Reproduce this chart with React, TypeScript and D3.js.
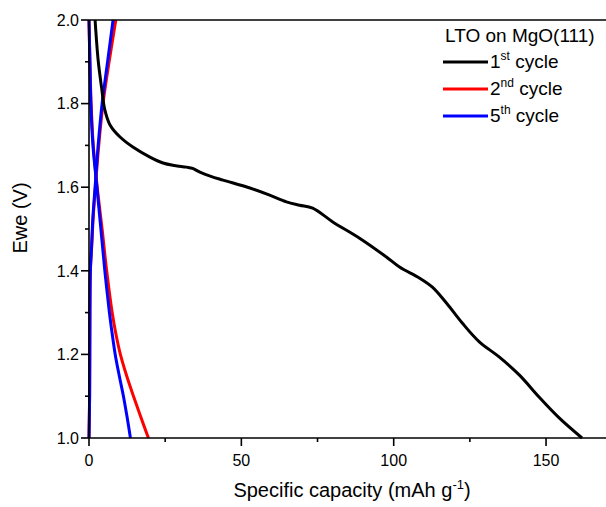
import React from "react";
import * as d3 from "d3";

const xTicksMajor = [0, 50, 100, 150];
const xTicksMinor = [25, 75, 125];
const yTicksMajor = [1.0, 1.2, 1.4, 1.6, 1.8, 2.0];
const yTicksMinor = [1.1, 1.3, 1.5, 1.7, 1.9];

const cycle1Cap = [2.0, 3.0, 4.1, 5.2, 6.9, 10.2, 14.4, 20, 24.3, 28, 32, 34, 36.4, 40, 44, 52.8, 59.3, 64.8, 69.1, 73.4, 80, 88.8, 97.6, 101.9, 108.4, 112.7, 117.3, 122.5, 128.1, 134.6, 141.2, 147.7, 154.3, 161.8];
const cycle1V = [2.0, 1.904, 1.84, 1.785, 1.749, 1.72, 1.696, 1.672, 1.658, 1.652, 1.648, 1.645, 1.636, 1.626, 1.617, 1.598, 1.581, 1.565, 1.557, 1.55, 1.517, 1.478, 1.433, 1.409, 1.383, 1.361, 1.323, 1.275, 1.23, 1.194, 1.151, 1.098, 1.048, 1.0];

const cycle2DisCap = [0, 0.3, 0.7, 1.4, 2.7, 4.3, 5.8, 7.6, 8.8, 10.3, 12.3, 14.6, 17.0, 19.5];
const cycle2DisV = [2.0, 1.9, 1.8, 1.7, 1.6, 1.5, 1.4, 1.3, 1.25, 1.2, 1.15, 1.1, 1.05, 1.0];
const cycle2ChgCap = [0, 0.2, 0.3, 0.45, 0.9, 1.4, 2.1, 3.2, 4.6, 6.6, 8.8];
const cycle2ChgV = [1.0, 1.1, 1.3, 1.4, 1.46, 1.53, 1.6, 1.7, 1.8, 1.9, 2.0];

const cycle5DisCap = [0, 0.3, 0.6, 1.3, 2.6, 3.9, 5.2, 6.7, 7.6, 8.6, 9.9, 11.3, 12.5, 13.6];
const cycle5DisV = [2.0, 1.9, 1.8, 1.7, 1.6, 1.5, 1.4, 1.3, 1.25, 1.2, 1.15, 1.1, 1.05, 1.0];
const cycle5ChgCap = [0, 0.2, 0.3, 0.45, 0.85, 1.3, 2.0, 3.0, 4.3, 6.1, 7.9];
const cycle5ChgV = [1.0, 1.1, 1.3, 1.4, 1.46, 1.53, 1.6, 1.7, 1.8, 1.9, 2.0];

const FONT = "'Liberation Sans', Arial, sans-serif";

export default function App() {
  const left = 89, top = 20, bottom = 438;
  const x = d3.scaleLinear().domain([0, 170]).range([left, left + 170 * 3.047]);
  const y = d3.scaleLinear().domain([1.0, 2.0]).range([bottom, top]);

  const line = d3
    .line<[number, number]>()
    .x((d) => x(d[0]))
    .y((d) => y(d[1]))
    .curve(d3.curveCatmullRom.alpha(0.5));

  const zip = (a: number[], b: number[]) => a.map((v, i) => [v, b[i]] as [number, number]);

  const series = [
    { cap: cycle2DisCap, v: cycle2DisV, color: "#ff0000" },
    { cap: cycle2ChgCap, v: cycle2ChgV, color: "#ff0000" },
    { cap: cycle5DisCap, v: cycle5DisV, color: "#0000ff" },
    { cap: cycle5ChgCap, v: cycle5ChgV, color: "#0000ff" },
    { cap: cycle1Cap, v: cycle1V, color: "#000000" },
  ];

  const legend = [
    { n: "1", sup: "st", color: "#000000" },
    { n: "2", sup: "nd", color: "#ff0000" },
    { n: "5", sup: "th", color: "#0000ff" },
  ];

  return (
    <svg
      width={606}
      height={507}
      style={{ position: "absolute", left: 0, top: 0, background: "#fff" }}
      fontFamily={FONT}
    >
      <rect x={0} y={0} width={606} height={507} fill="#fff" />
      {series.map((s, i) => (
        <path key={i} d={line(zip(s.cap, s.v)) || ""} fill="none" stroke={s.color} strokeWidth={3} strokeLinejoin="round" />
      ))}
      {/* axes frame */}
      <line x1={left} x2={606} y1={top} y2={top} stroke="#000" strokeWidth={1.6} />
      <line x1={left} x2={606} y1={bottom} y2={bottom} stroke="#000" strokeWidth={1.6} />
      <line x1={left} x2={left} y1={top} y2={bottom} stroke="#000" strokeWidth={1.6} />
      {xTicksMajor.map((t) => (
        <g key={"xm" + t}>
          <line x1={x(t)} x2={x(t)} y1={bottom} y2={bottom + 8} stroke="#000" strokeWidth={1.6} />
          <text x={x(t)} y={466} textAnchor="middle" fontSize={16}>
            {t}
          </text>
        </g>
      ))}
      {xTicksMinor.map((t) => (
        <line key={"xn" + t} x1={x(t)} x2={x(t)} y1={bottom} y2={bottom + 4} stroke="#000" strokeWidth={1.6} />
      ))}
      {yTicksMajor.map((t) => (
        <g key={"ym" + t}>
          <line x1={left - 8} x2={left} y1={y(t)} y2={y(t)} stroke="#000" strokeWidth={1.6} />
          <text x={79} y={y(t)} dy="0.36em" textAnchor="end" fontSize={16}>
            {t.toFixed(1)}
          </text>
        </g>
      ))}
      {yTicksMinor.map((t) => (
        <line key={"yn" + t} x1={left - 4} x2={left} y1={y(t)} y2={y(t)} stroke="#000" strokeWidth={1.6} />
      ))}
      <text x={352} y={497} textAnchor="middle" fontSize={20}>
        Specific capacity (mAh g
        <tspan fontSize={13} dy={-8}>-1</tspan>
        <tspan dy={8}>)</tspan>
      </text>
      <text transform="translate(27,218) rotate(-90)" textAnchor="middle" fontSize={20}>
        Ewe (V)
      </text>
      {/* legend */}
      <text x={445} y={42} fontSize={19}>
        LTO on MgO(111)
      </text>
      {legend.map((l, i) => {
        const ly = 62 + i * 27;
        return (
          <g key={l.n}>
            <line x1={443} x2={488} y1={ly} y2={ly} stroke={l.color} strokeWidth={3} />
            <text x={490} y={ly + 6} fontSize={19}>
              {l.n}
              <tspan fontSize={12} dy={-8}>{l.sup}</tspan>
              <tspan dy={8}> cycle</tspan>
            </text>
          </g>
        );
      })}
    </svg>
  );
}
